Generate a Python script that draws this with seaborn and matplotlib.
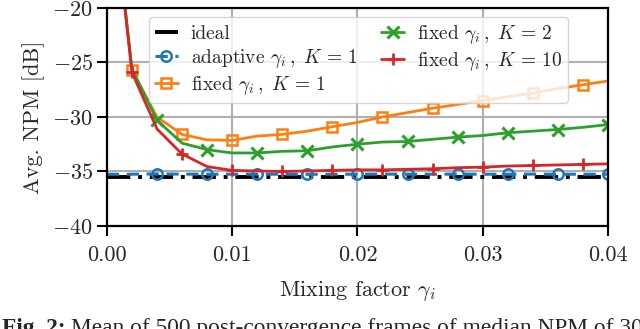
"""
NPM vs. mixing factor: ideal, adaptive and fixed gamma_i curves.
"""

import matplotlib
matplotlib.use("Agg")
import matplotlib.pyplot as plt
import pandas as pd
import seaborn as sns

# mixing factor grid
gamma = [0.000, 0.002, 0.004, 0.006, 0.008, 0.010, 0.012, 0.014, 0.016, 0.018, 0.020,
         0.022, 0.024, 0.026, 0.028, 0.030, 0.032, 0.034, 0.036, 0.038, 0.040]

# avg. NPM [dB]
npm_ideal = [-35.5] * len(gamma)
npm_adaptive = [-35.25, -35.25, -35.22, -35.24, -35.25, -35.25, -35.24, -35.25, -35.26, -35.25, -35.25,
                -35.24, -35.25, -35.25, -35.24, -35.25, -35.25, -35.24, -35.25, -35.25, -35.25]
npm_fixed_k1 = [-5.0, -25.7, -30.0, -31.6, -32.1, -32.15, -31.75, -31.6, -31.3, -30.9, -30.5,
                -30.0, -29.6, -29.2, -28.85, -28.5, -28.15, -27.8, -27.4, -27.05, -26.7]
npm_fixed_k2 = [-5.0, -25.6, -30.3, -32.4, -33.0, -33.3, -33.3, -33.15, -33.1, -32.75, -32.5,
                -32.3, -32.25, -32.05, -31.85, -31.7, -31.45, -31.3, -31.15, -30.95, -30.7]
npm_fixed_k10 = [-5.0, -25.9, -31.1, -33.4, -34.55, -34.9, -34.95, -35.0, -34.95, -34.9, -34.85,
                 -34.85, -34.8, -34.75, -34.65, -34.6, -34.5, -34.45, -34.4, -34.35, -34.3]

labels = [
    "ideal",
    r"adaptive $\gamma_i\,,\ K\,=\,1$",
    r"fixed $\gamma_i\,,\ K\,=\,1$",
    r"fixed $\gamma_i\,,\ K\,=\,2$",
    r"fixed $\gamma_i\,,\ K\,=\,10$",
]

sns.set_theme(style="whitegrid")
plt.rcParams["font.family"] = ["cmr10", "DejaVu Serif"]
plt.rcParams["mathtext.fontset"] = "cm"
plt.rcParams["axes.formatter.use_mathtext"] = True
plt.rcParams["axes.unicode_minus"] = True

FS = 16

fig = plt.figure(figsize=(6.4, 3.29), dpi=100)
ax = fig.add_axes([0.167, 0.313, 0.783, 0.663])

styles = [
    (npm_ideal, dict(color="black", linestyle=(0, (6, 2, 1, 2)), linewidth=2.8)),
    (npm_adaptive, dict(color="tab:blue", linestyle=(0, (4, 2.5)), linewidth=2.2, marker="o",
                        markersize=7.5, markerfacecolor="none", markeredgecolor="tab:blue",
                        markeredgewidth=1.8, markevery=(2, 2))),
    (npm_fixed_k1, dict(color="tab:orange", linewidth=2.0, marker="s", markersize=7,
                        markerfacecolor="none", markeredgecolor="tab:orange",
                        markeredgewidth=1.8, markevery=(1, 2))),
    (npm_fixed_k2, dict(color="tab:green", linewidth=2.0, marker="x", markersize=8,
                        markeredgecolor="tab:green", markeredgewidth=2.2, markevery=(2, 2))),
    (npm_fixed_k10, dict(color="tab:red", linewidth=2.0, marker="+", markersize=9,
                         markeredgecolor="tab:red", markeredgewidth=2.0, markevery=(1, 2))),
]

for (values, kw), label in zip(styles, labels):
    df = pd.DataFrame({"gamma": gamma, "npm": values})
    sns.lineplot(data=df, x="gamma", y="npm", ax=ax, label=label, **kw)

ax.set_xlim(0, 0.04)
ax.set_ylim(-40, -20)
ax.set_xticks([0.00, 0.01, 0.02, 0.03, 0.04])
ax.set_xticklabels(["0.00", "0.01", "0.02", "0.03", "0.04"])
ax.set_yticks([-40, -35, -30, -25, -20])
ax.set_xlabel(r"Mixing factor $\gamma_i$", fontsize=FS, labelpad=10)
ax.set_ylabel("Avg. NPM [dB]", fontsize=FS, labelpad=5)
ax.tick_params(axis="both", labelsize=FS, direction="out", length=7, width=1.5,
               color="black", pad=3, left=True, bottom=True)
ax.tick_params(axis="x", pad=7)
ax.grid(True, color="#b0b0b0", linewidth=1.5)
for s in ax.spines.values():
    s.set_color("black")
    s.set_linewidth(1.6)

ax.legend(ncol=2, loc="upper left", bbox_to_anchor=(0.0838, 0.9587), borderaxespad=0,
          fontsize=14, handlelength=1.2, labelspacing=0.22, columnspacing=1.2,
          handletextpad=0.65, borderpad=0.3, frameon=True, framealpha=0.8,
          edgecolor="#cccccc", fancybox=True)

# caption below the plot, cut by the lower edge as in the source
cap_y = 1 - 318 / 329
bold = fig.text(0.003, cap_y, "Fig. 2:", fontsize=16.8, fontweight="bold",
                family="Liberation Serif", va="top", ha="left")
fig.canvas.draw()
bb = bold.get_window_extent(fig.canvas.get_renderer())
fig.text(bb.x1 / fig.bbox.width + 0.008, cap_y,
         "Mean of 500 post-convergence frames of median NPM of 30",
         fontsize=16.8, family="Liberation Serif", va="top", ha="left")

fig.savefig("out.png", dpi=100)
